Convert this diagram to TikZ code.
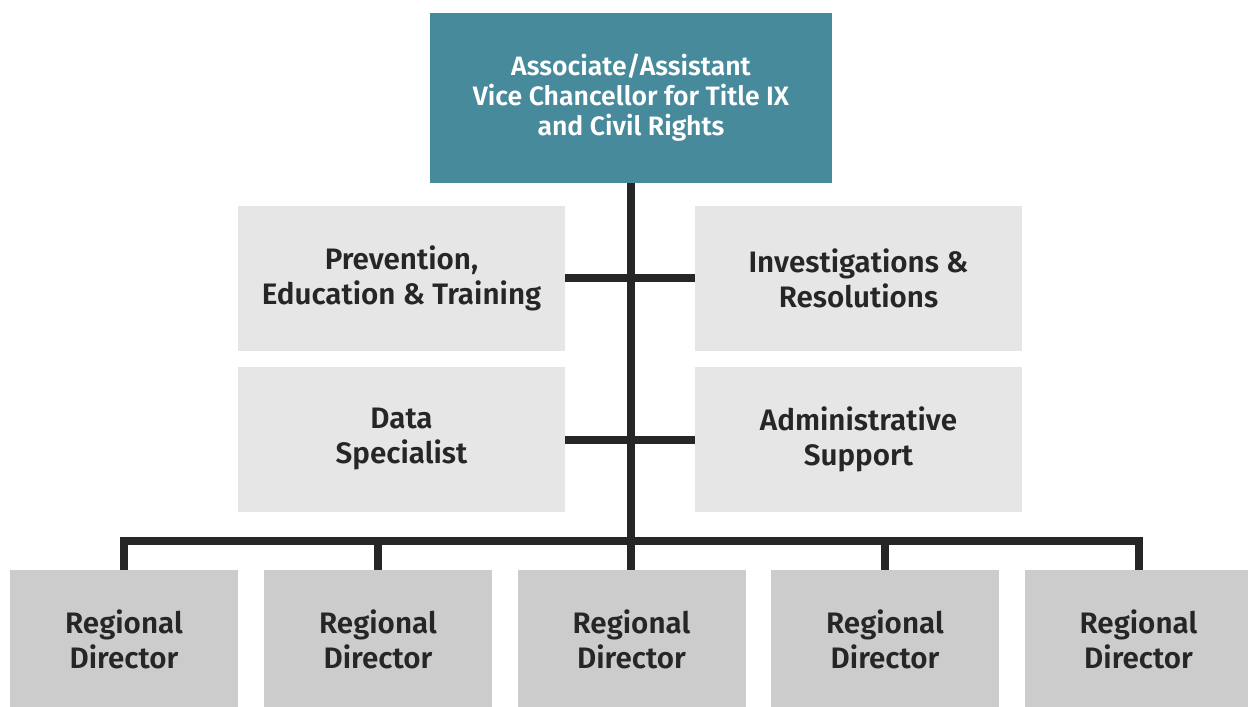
\documentclass[tikz,border=0pt]{standalone}
\usepackage{fontspec}
\setmainfont{Fira Sans}[BoldFont={Fira Sans SemiBold}]
\usepackage{tikz}
\usetikzlibrary{calc}
\usepackage{xcolor}
\definecolor{headblue}{HTML}{478A9B}
\definecolor{unitgray}{HTML}{E6E6E6}
\definecolor{regiongray}{HTML}{CCCCCC}
\definecolor{linegray}{HTML}{262626}

\begin{document}
\begin{tikzpicture}[x=0.5pt,y=-0.5pt,
		head/.style={fill=headblue, text=white, minimum width=201pt, minimum height=85pt,
			font=\fontsize{13.3}{15}\selectfont\bfseries},
		unit/.style={fill=unitgray, minimum width=163.5pt, minimum height=72.5pt},
		region/.style={fill=regiongray, minimum width=114pt, minimum height=69pt},
		link/.style={draw=linegray, line width=4pt}]
		\tikzstyle{every node}=[align=center, inner sep=0pt, text=linegray,
			font=\fontsize{14.8}{17.5}\selectfont\bfseries]
		\useasboundingbox (0,0) rectangle (1248,707);
		\clip (0,0) rectangle (1248,707);
		% top of the chart
		\node[head] (vc) at (631,98) {Associate/Assistant\\Vice Chancellor for Title IX\\and Civil Rights};
		% staff units
		\node[unit] (pet) at (401.5,278) {Prevention,\\Education \& Training};
		\node[unit] (inv) at (858.5,278) {Investigations \&\\Resolutions};
		\node[unit] (data) at (401.5,439.5) {Data\\Specialist};
		\node[unit] (admin) at (858.5,439.5) {Administrative\\Support};
		% regional directors
		\foreach \i/\x in {1/124,2/378,3/631.5,4/885,5/1138.5}
			\node[region] (rd\i) at (\x,639) {Regional\\Director};
		\coordinate (bus) at (631,541);
		% connectors
		\draw[link] (vc.south) -- (vc.south |- rd3.north);
		\draw[link] (pet.east) -- (inv.west);
		\draw[link] (data.east) -- (admin.west);
		\draw[link] (rd1.north) |- (bus) -| (rd5.north);
		\foreach \i in {2,4}
			\draw[link] (rd\i.north) -- (rd\i.north |- bus);
	\end{tikzpicture}
\end{document}
